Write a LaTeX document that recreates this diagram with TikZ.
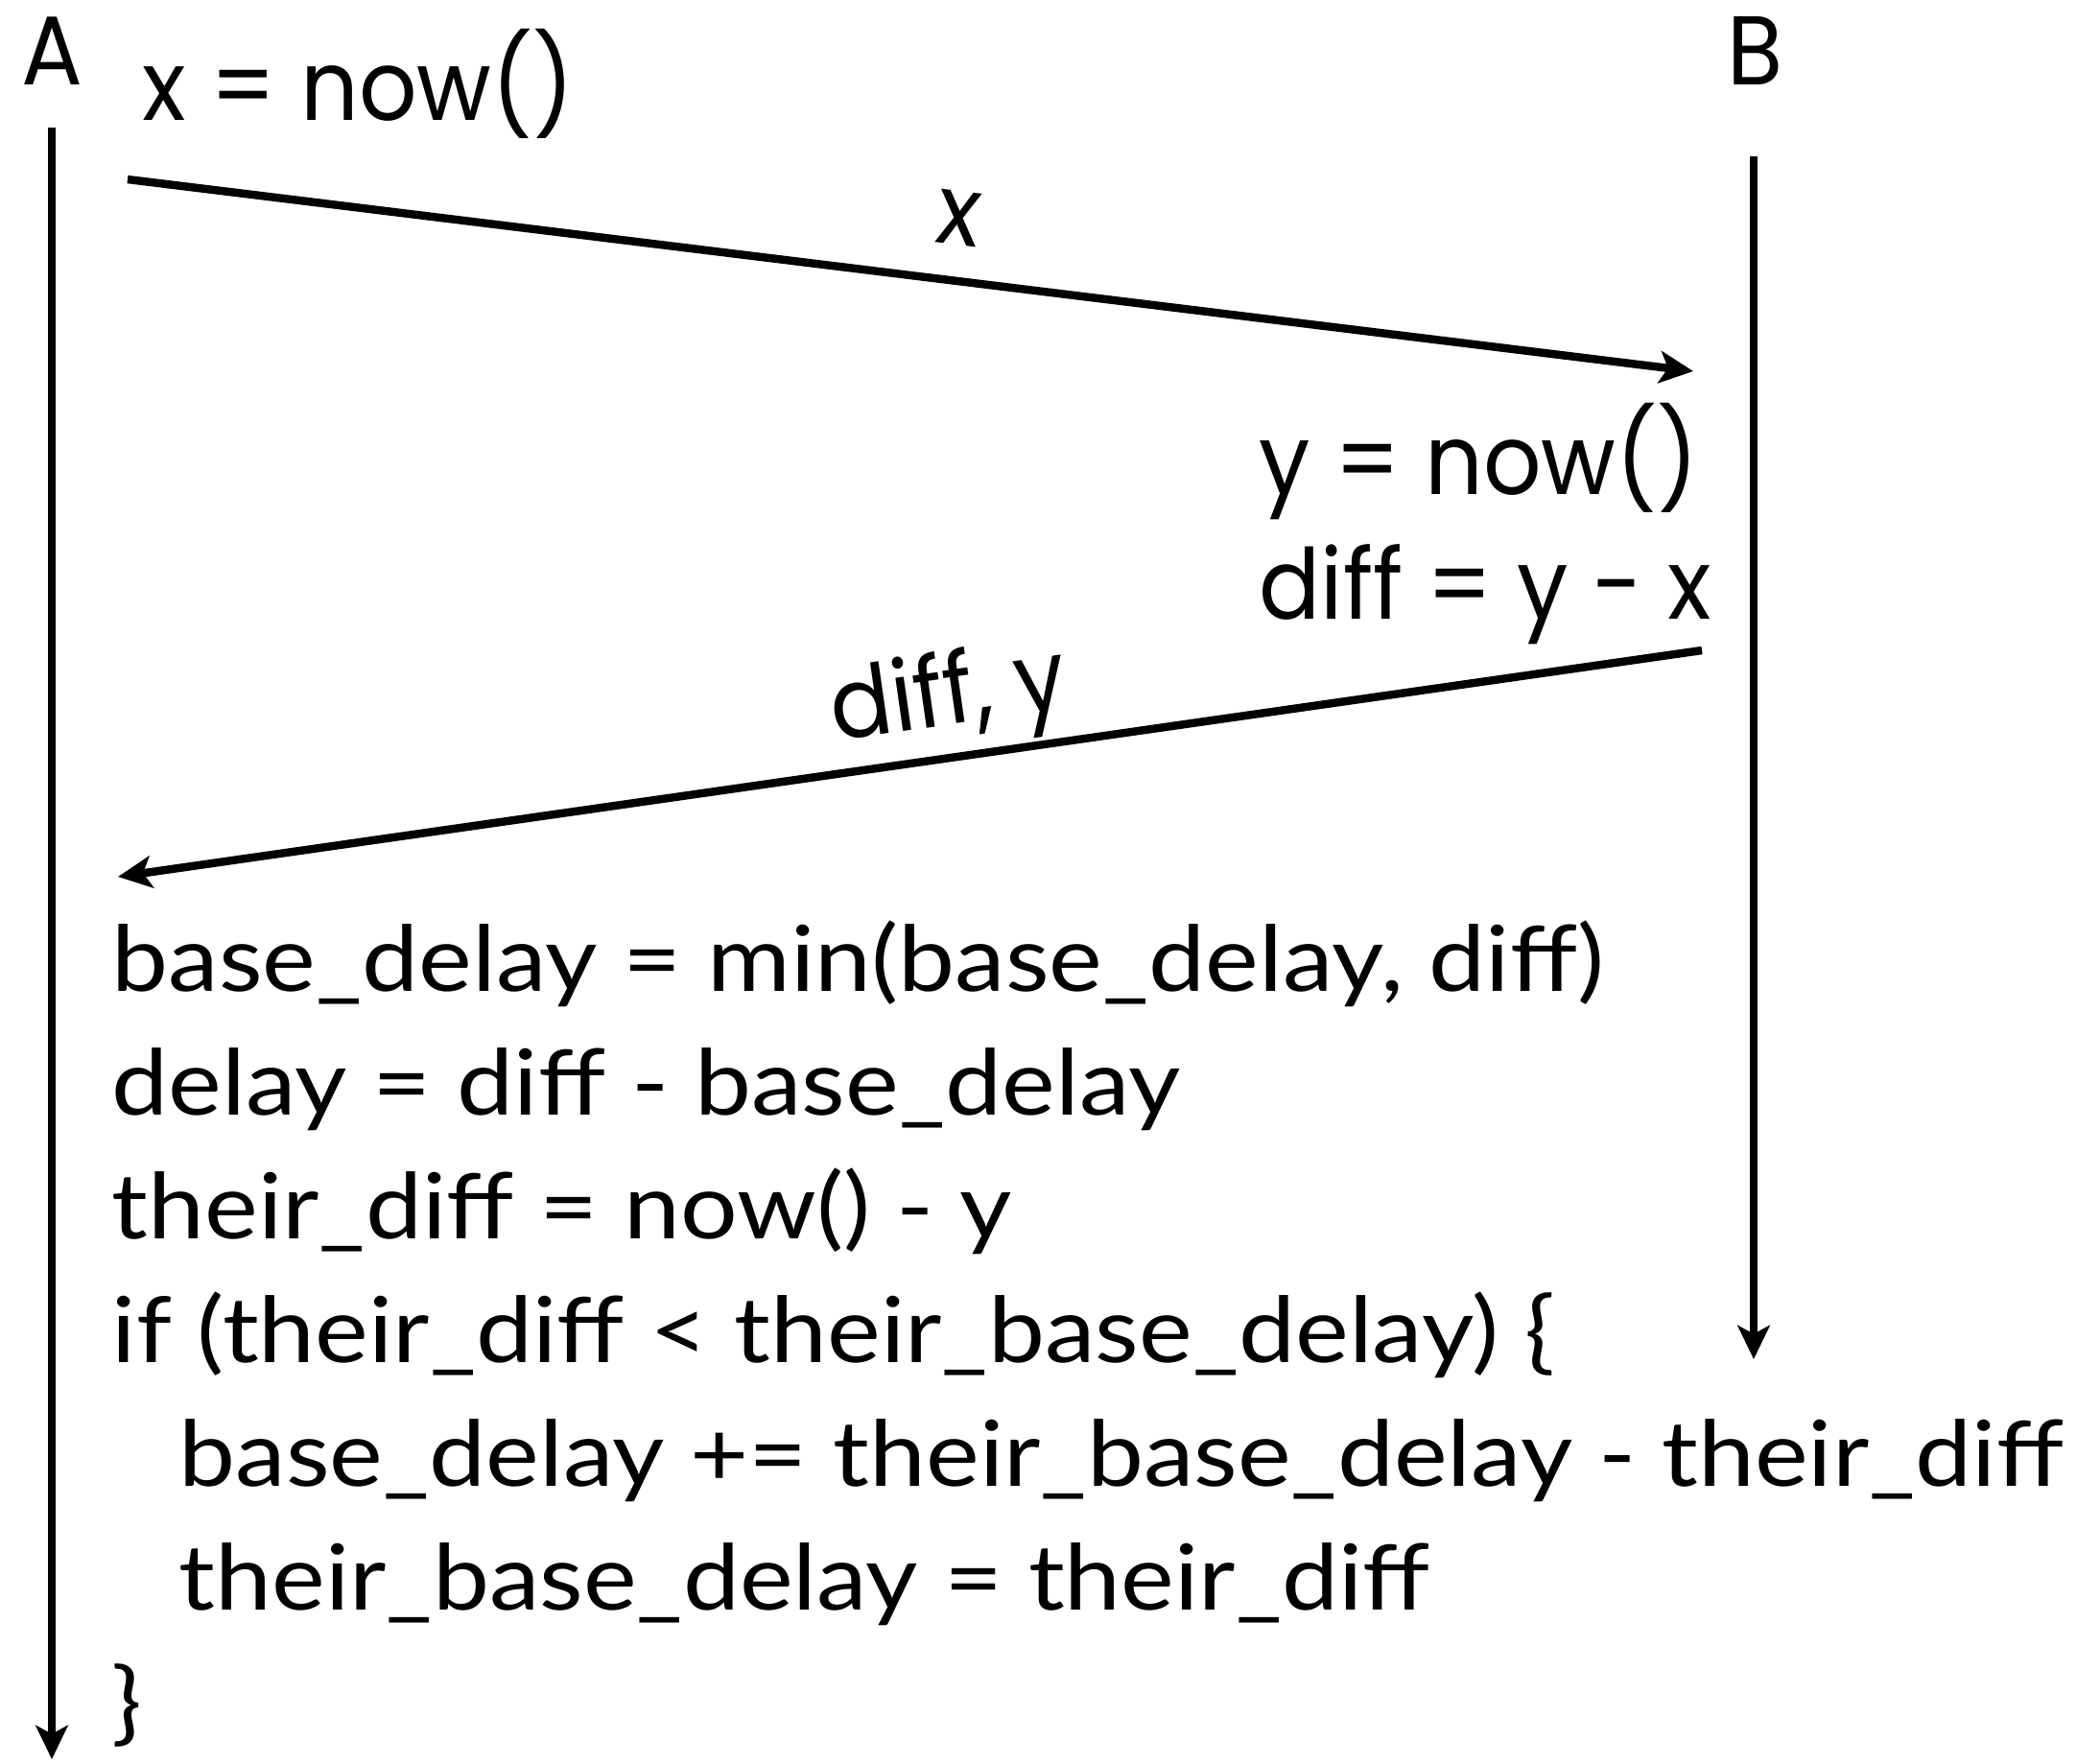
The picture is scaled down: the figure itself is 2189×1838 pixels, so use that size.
\documentclass[tikz,border=0pt]{standalone}
\usepackage{fontspec}
\usetikzlibrary{arrows.meta}
\newfontfamily\tagfont[FakeStretch=0.93]{Poppins}
\newfontfamily\codefont[FakeStretch=1.11]{Lato}
\tikzset{
  life/.style={line width=2.4pt, -{Stealth[length=10pt,width=9.5pt,inset=2.5pt]}},
  msg/.style={line width=2.4pt, -{Stealth[length=10pt,width=9.5pt,inset=2.5pt]}},
  tag/.style={font=\tagfont\fontsize{29}{34}\selectfont, inner sep=0pt},
  codeline/.style={font=\codefont\fontsize{27}{32}\selectfont, anchor=base west, inner sep=0pt},
}
\begin{document}
\begin{tikzpicture}[x=0.01cm, y=-0.01cm, line cap=butt]
    \useasboundingbox (0,0) rectangle (2189,1838);

    % the two hosts
    \node[tag, anchor=base] (A) at (54,88) {A};
    \node[tag, anchor=base] (B) at (1830,88) {B};
    \coordinate (Atop) at (54,133);
    \coordinate (Abot) at (54,1834);
    \coordinate (Btop) at (1828,163);
    \coordinate (Bbot) at (1828,1417);
    \draw[life] (Atop) -- (Abot);
    \draw[life] (Btop) -- (Bbot);

    % first message
    \node[tag, anchor=base west] (xnow) at (148,125) {x = now()};
    \coordinate (m1a) at (133,187);
    \coordinate (m1b) at (1765,387);
    \draw[msg] (m1a) -- node[tag, pos=0.526, above=9.5pt, sloped] (xlbl) {x} (m1b);

    % reply
    \node[tag, anchor=base west] (ynow) at (1312,515) {y = now()};
    \node[tag, anchor=base west] (dcalc) at (1312,645) {diff = y - x};
    \coordinate (m2a) at (1774,678);
    \coordinate (m2b) at (123,914);
    \draw[msg] (m2a) -- node[tag, pos=0.47, above=1pt, sloped] (dlbl) {diff, y} (m2b);

    % update on A
    \node[codeline] (c1) at (116,1033) {base\_delay = min(base\_delay, diff)};
    \node[codeline] (c2) at (116,1162) {delay = diff - base\_delay};
    \node[codeline] (c3) at (116,1291) {their\_diff = now() - y};
    \node[codeline] (c4) at (116,1420) {if (their\_diff < their\_base\_delay) \{};
    \node[codeline] (c5) at (186,1549) {base\_delay += their\_base\_delay - their\_diff};
    \node[codeline] (c6) at (186,1678) {their\_base\_delay = their\_diff};
    \node[codeline] (c7) at (116,1807) {\}};
\end{tikzpicture}
\end{document}
